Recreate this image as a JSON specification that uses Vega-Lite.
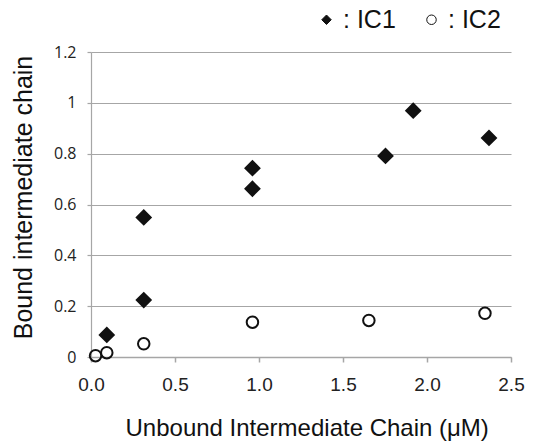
{
  "$schema": "https://vega.github.io/schema/vega-lite/v6.json",
  "width": 420,
  "height": 305,
  "autosize": {"type": "none"},
  "padding": {"left": 91, "top": 52, "right": 33, "bottom": 84},
  "background": "white",
  "config": {
    "view": {"stroke": null},
    "font": "Liberation Sans",
    "legend": {
      "orient": "none", "direction": "horizontal",
      "legendX": 223, "legendY": -45,
      "title": null,
      "labelFont": "Liberation Sans", "labelFontSize": 25, "labelColor": "#111",
      "labelOffset": 4,
      "columnPadding": 23,
      "symbolSize": 90, "symbolStrokeWidth": 1
    }
  },
  "data": {
    "values": [
      {"series": "IC1", "unbound": 0.094, "bound": 0.087},
      {"series": "IC1", "unbound": 0.314, "bound": 0.224},
      {"series": "IC1", "unbound": 0.314, "bound": 0.549},
      {"series": "IC1", "unbound": 0.961, "bound": 0.662},
      {"series": "IC1", "unbound": 0.961, "bound": 0.743},
      {"series": "IC1", "unbound": 1.753, "bound": 0.791},
      {"series": "IC1", "unbound": 1.918, "bound": 0.969},
      {"series": "IC1", "unbound": 2.369, "bound": 0.862},
      {"series": "IC2", "unbound": 0.027, "bound": 0.005},
      {"series": "IC2", "unbound": 0.094, "bound": 0.017},
      {"series": "IC2", "unbound": 0.314, "bound": 0.052},
      {"series": "IC2", "unbound": 0.961, "bound": 0.137},
      {"series": "IC2", "unbound": 1.654, "bound": 0.144},
      {"series": "IC2", "unbound": 2.345, "bound": 0.172}
    ]
  },
  "encoding": {
    "x": {
      "field": "unbound", "type": "quantitative",
      "scale": {"domain": [0, 2.5], "nice": false},
      "axis": {
        "values": [0, 0.5, 1, 1.5, 2, 2.5],
        "format": ".1f",
        "grid": false,
        "labelFlush": false,
        "domainColor": "#a6a6a6", "domainWidth": 1.5,
        "tickColor": "#a6a6a6", "tickSize": 5, "tickWidth": 1.5,
        "labelFont": "Liberation Sans", "labelFontSize": 19, "labelColor": "#222",
        "labelPadding": 13,
        "title": "Unbound Intermediate Chain (μM)",
        "titleFont": "Liberation Sans", "titleFontSize": 24, "titleFontWeight": "normal", "titleColor": "#111",
        "titleAlign": "left", "titleX": 34, "titleY": 78, "titleBaseline": "alphabetic"
      }
    },
    "y": {
      "field": "bound", "type": "quantitative",
      "scale": {"domain": [0, 1.2], "nice": false},
      "axis": {
        "values": [0, 0.2, 0.4, 0.6, 0.8, 1, 1.2],
        "format": "~g",
        "grid": true, "gridColor": "#a6a6a6", "gridWidth": 1.2,
        "domainColor": "#a6a6a6", "domainWidth": 1.2,
        "tickColor": "#a6a6a6", "tickSize": 4, "tickWidth": 1.2,
        "labelFont": "Open Sans", "labelFontSize": 16, "labelColor": "#222",
        "labelPadding": 11,
        "title": "Bound intermediate chain",
        "titleFont": "Liberation Sans", "titleFontSize": 25, "titleFontWeight": "normal", "titleColor": "#111",
        "titleAngle": -90, "titleAlign": "center", "titleX": -60, "titleY": 145, "titleBaseline": "alphabetic"
      }
    },
    "shape": {
      "field": "series", "type": "nominal",
      "scale": {"domain": ["IC1", "IC2"], "range": ["diamond", "circle"]},
      "legend": {"labelExpr": "': ' + datum.label"}
    },
    "fill": {
      "field": "series", "type": "nominal",
      "scale": {"domain": ["IC1", "IC2"], "range": ["#111", "transparent"]},
      "legend": {"labelExpr": "': ' + datum.label"}
    },
    "stroke": {
      "field": "series", "type": "nominal",
      "scale": {"domain": ["IC1", "IC2"], "range": ["#111", "#111"]},
      "legend": {"labelExpr": "': ' + datum.label"}
    }
  },
  "layer": [
    {
      "transform": [{"filter": "datum.series === 'IC1'"}],
      "mark": {"type": "point", "strokeWidth": 2, "opacity": 1, "size": 195}
    },
    {
      "transform": [{"filter": "datum.series === 'IC2'"}],
      "mark": {"type": "point", "strokeWidth": 2, "opacity": 1, "size": 132}
    }
  ]
}
